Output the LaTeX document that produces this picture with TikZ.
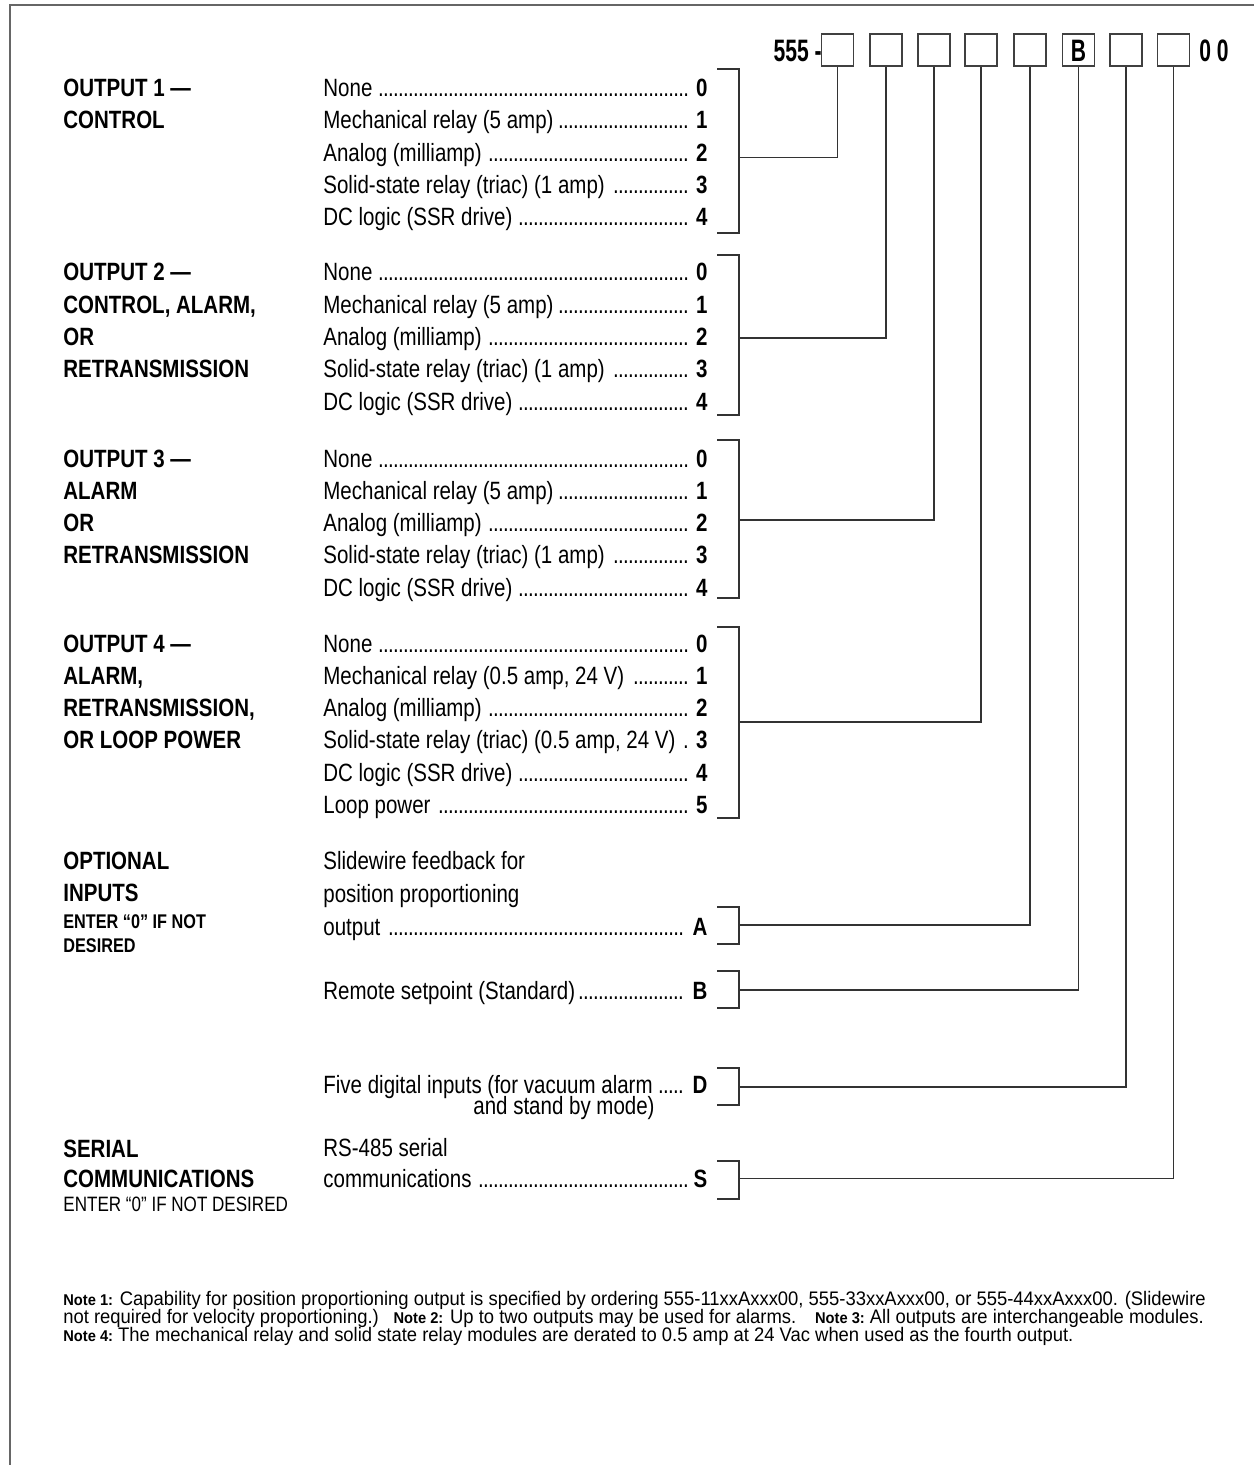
\documentclass[tikz,border=0pt]{standalone}
\usepackage{fontspec}
\setmainfont[FakeStretch=0.82]{Liberation Sans}
\newfontfamily\headfont[FakeStretch=0.68]{Liberation Sans}
\newfontfamily\notefont[FakeStretch=0.94]{Liberation Sans}
\newcommand\lead{\leaders\hbox to 2.5pt{\hss.\hss}\hfill}
\newcommand\itemrow[2]{\makebox[192pt][l]{#1\lead\hspace{2.5pt}\textbf{#2}}}
\tikzset{
  wire/.style={draw=black!80,line width=0.7pt},
  frame/.style={draw=black!60,line width=1pt},
  cbox/.style={draw=black!75,line width=0.6pt,minimum width=16pt,minimum height=16pt,inner sep=0pt},
  itemtxt/.style={anchor=base west,inner sep=0pt,font=\fontsize{12.5}{13}\selectfont},
  lbl/.style={anchor=base west,inner sep=0pt,font=\fontsize{12.5}{13}\selectfont\bfseries},
  lblsmall/.style={anchor=base west,inner sep=0pt,font=\fontsize{9.9}{10}\selectfont\bfseries},
  lblsmallreg/.style={anchor=base west,inner sep=0pt,font=\fontsize{10.4}{11}\selectfont},
  head/.style={inner sep=0pt,font=\headfont\fontsize{15.5}{16}\selectfont\bfseries},
  note/.style={anchor=base west,inner sep=0pt,font=\notefont\fontsize{9.8}{10}\selectfont},
}
\newcommand\nl[1]{{\fontsize{7.8}{8}\selectfont\bfseries #1}}
\newcommand\brk[5]{%
  \draw[wire] (717,#2) -- (739,#2) -- (739,#3) -- (717,#3);
  \coordinate (#1) at (739,#4);
  \draw[wire] (#1) -| (#5.south);}
\begin{document}
\begin{tikzpicture}[x=0.5pt,y=-0.5pt]
\useasboundingbox (0,0) rectangle (1254,1465);
\draw[frame] (1254,5) -- (10,5) -- (10,1465);

% header boxes
\node[cbox] (b1) at (837.5,50) {};
\node[cbox] (b2) at (886,50) {};
\node[cbox] (b3) at (934,50) {};
\node[cbox] (b4) at (981,50) {};
\node[cbox] (b5) at (1030,50) {};
\node[cbox] (b6) at (1078.5,50) {};
\node[head,anchor=base] (bl) at (1078.5,62) {B};
\node[cbox] (b7) at (1126,50) {};
\node[cbox] (b8) at (1173.5,50) {};
\node[head,anchor=base east] (pre) at (822,62) {555 -};
\node[head,anchor=base west] (suf) at (1199,62) {0 0};

% OUTPUT 1
\node[lbl] (l1a) at (63,96.5) {OUTPUT 1 ---};
\node[lbl] (l1b) at (63,128.8) {CONTROL};
\node[itemtxt] (o10) at (323,96.5) {\itemrow{None }{0}};
\node[itemtxt] (o11) at (323,128.8) {\itemrow{Mechanical relay (5 amp)}{1}};
\node[itemtxt] (o12) at (323,161.1) {\itemrow{Analog (milliamp) }{2}};
\node[itemtxt] (o13) at (323,193.4) {\itemrow{Solid-state relay (triac) (1 amp) }{3}};
\node[itemtxt] (o14) at (323,225.7) {\itemrow{DC logic (SSR drive) }{4}};
\brk{j1}{69}{233}{157.7}{b1}

% OUTPUT 2
\node[lbl] (l2a) at (63,281) {OUTPUT 2 ---};
\node[lbl] (l2b) at (63,313.3) {CONTROL, ALARM,};
\node[lbl] (l2c) at (63,345.6) {OR};
\node[lbl] (l2d) at (63,377.9) {RETRANSMISSION};
\node[itemtxt] (o20) at (323,281) {\itemrow{None }{0}};
\node[itemtxt] (o21) at (323,313.3) {\itemrow{Mechanical relay (5 amp)}{1}};
\node[itemtxt] (o22) at (323,345.6) {\itemrow{Analog (milliamp) }{2}};
\node[itemtxt] (o23) at (323,377.9) {\itemrow{Solid-state relay (triac) (1 amp) }{3}};
\node[itemtxt] (o24) at (323,410.2) {\itemrow{DC logic (SSR drive) }{4}};
\brk{j2}{255}{415}{338}{b2}

% OUTPUT 3
\node[lbl] (l3a) at (63,467) {OUTPUT 3 ---};
\node[lbl] (l3b) at (63,499.3) {ALARM};
\node[lbl] (l3c) at (63,531.6) {OR};
\node[lbl] (l3d) at (63,563.9) {RETRANSMISSION};
\node[itemtxt] (o30) at (323,467) {\itemrow{None }{0}};
\node[itemtxt] (o31) at (323,499.3) {\itemrow{Mechanical relay (5 amp)}{1}};
\node[itemtxt] (o32) at (323,531.6) {\itemrow{Analog (milliamp) }{2}};
\node[itemtxt] (o33) at (323,563.9) {\itemrow{Solid-state relay (triac) (1 amp) }{3}};
\node[itemtxt] (o34) at (323,596.2) {\itemrow{DC logic (SSR drive) }{4}};
\brk{j3}{440}{598}{520}{b3}

% OUTPUT 4
\node[lbl] (l4a) at (63,652) {OUTPUT 4 ---};
\node[lbl] (l4b) at (63,684.3) {ALARM,};
\node[lbl] (l4c) at (63,716.6) {RETRANSMISSION,};
\node[lbl] (l4d) at (63,748.9) {OR LOOP POWER};
\node[itemtxt] (o40) at (323,652) {\itemrow{None }{0}};
\node[itemtxt] (o41) at (323,684.3) {\itemrow{Mechanical relay (0.5 amp, 24 V) }{1}};
\node[itemtxt] (o42) at (323,716.6) {\itemrow{Analog (milliamp) }{2}};
\node[itemtxt] (o43) at (323,748.9) {\itemrow{Solid-state relay (triac) (0.5 amp, 24 V) }{3}};
\node[itemtxt] (o44) at (323,781.2) {\itemrow{DC logic (SSR drive) }{4}};
\node[itemtxt] (o45) at (323,813.5) {\itemrow{Loop power }{5}};
\brk{j4}{627}{818}{722}{b4}

% OPTIONAL INPUTS
\node[lbl] (l5a) at (63,869) {OPTIONAL};
\node[lbl] (l5b) at (63,901) {INPUTS};
\node[lblsmall] (l5c) at (63,928) {ENTER “0” IF NOT};
\node[lblsmall] (l5d) at (63,952) {DESIRED};
\node[itemtxt] (oa1) at (323,869) {Slidewire feedback for};
\node[itemtxt] (oa2) at (323,902) {position proportioning};
\node[itemtxt] (oa3) at (323,935) {\itemrow{output }{A}};
\brk{jA}{907}{944}{925}{b5}
\node[itemtxt] (ob) at (323,999) {\itemrow{Remote setpoint (Standard)}{B}};
\brk{jB}{971}{1008}{990}{b6}
\node[itemtxt] (od) at (323,1093) {\itemrow{Five digital inputs (for vacuum alarm }{D}};
\node[itemtxt,anchor=base east] (od2) at (655,1114) {and stand by mode)};
\brk{jD}{1068}{1105}{1087}{b7}

% SERIAL
\node[lbl] (l6a) at (63,1157) {SERIAL};
\node[lbl] (l6b) at (63,1187) {COMMUNICATIONS};
\node[lblsmallreg] (l6c) at (63,1211) {ENTER “0” IF NOT DESIRED};
\node[itemtxt] (os1) at (323,1156) {RS-485 serial};
\node[itemtxt] (os2) at (323,1187) {\itemrow{communications }{S}};
\brk{jS}{1161}{1199}{1178.5}{b8}

% notes
\node[note] (n1) at (63,1305) {\nl{Note 1:} Capability for position proportioning output is specified by ordering 555-11xxAxxx00, 555-33xxAxxx00, or 555-44xxAxxx00. (Slidewire};
\node[note] (n2) at (63,1323) {not required for velocity proportioning.)\hspace{4pt} \nl{Note 2:} Up to two outputs may be used for alarms.\hspace{6pt} \nl{Note 3:}\ All outputs are interchangeable modules.};
\node[note] (n3) at (63,1341) {\nl{Note 4:}\ The mechanical relay and solid state relay modules are derated to 0.5 amp at 24 Vac when used as the fourth output.};
\end{tikzpicture}
\end{document}
